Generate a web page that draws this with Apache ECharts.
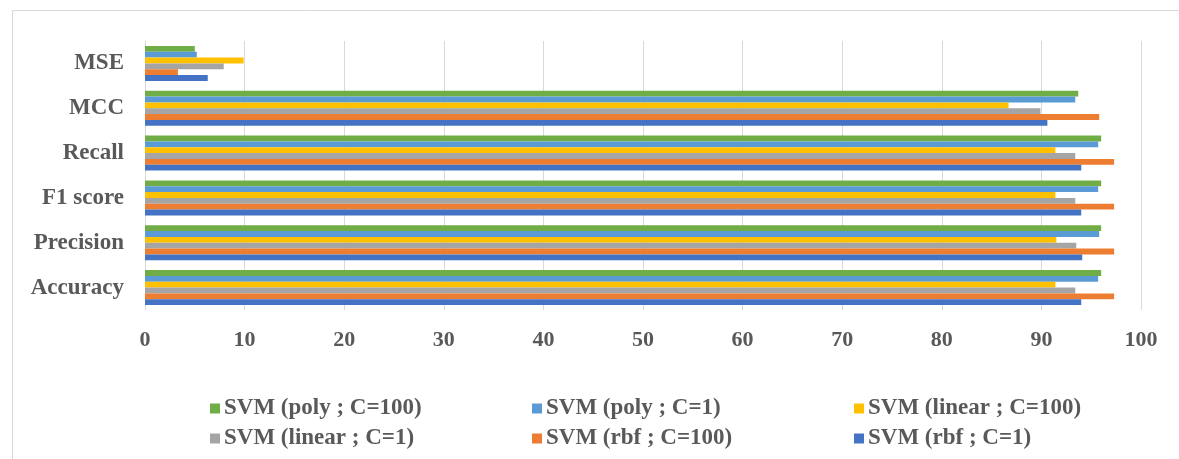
<!DOCTYPE html>
<html>
<head>
<meta charset="utf-8">
<script src="https://cdn.jsdelivr.net/npm/echarts@6/dist/echarts.min.js"></script>
<style>
  html, body { margin: 0; padding: 0; background: #fff; }
  #chart { width: 1179px; height: 459px; }
</style>
</head>
<body>
<div id="chart"></div>
<script>
'use strict';

// metrics, bottom to top
const metrics = ['Accuracy', 'Precision', 'F1 score', 'Recall', 'MCC', 'MSE'];
const xTicks = [0, 10, 20, 30, 40, 50, 60, 70, 80, 90, 100];

const poly100 = [96.0, 96.0, 96.0, 96.0, 93.7, 5.0];
const poly1 = [95.7, 95.8, 95.7, 95.7, 93.4, 5.2];
const linear100 = [91.4, 91.5, 91.4, 91.4, 86.7, 9.9];
const linear1 = [93.4, 93.5, 93.4, 93.4, 89.9, 7.9];
const rbf100 = [97.3, 97.3, 97.3, 97.3, 95.8, 3.3];
const rbf1 = [94.0, 94.1, 94.0, 94.0, 90.6, 6.3];

// top of each group first (ECharts stacks horizontal bars top-down)
const seriesNames = [
  'SVM (poly ; C=100)', 'SVM (poly ; C=1)', 'SVM (linear ; C=100)',
  'SVM (linear ; C=1)', 'SVM (rbf ; C=100)', 'SVM (rbf ; C=1)'
];
const seriesData = [poly100, poly1, linear100, linear1, rbf100, rbf1];
const colors = ['#70AD47', '#5B9BD5', '#FFC000', '#A5A5A5', '#ED7D31', '#4472C4'];

(function () {
  const chart = echarts.init(document.getElementById('chart'));
  const font = 'Liberation Serif';
  const textColor = '#595959';

  // legend, 2 rows x 3 columns like the original
  const legends = seriesNames.map(function (name, i) {
    return {
      data: [name],
      left: 205 + (i % 3) * 322,
      top: 392 + Math.floor(i / 3) * 30,
      itemWidth: 10,
      itemHeight: 10,
      itemGap: 4,
      icon: 'rect',
      selectedMode: false,
      textStyle: { fontFamily: font, fontWeight: 'bold', fontSize: 23, color: textColor, padding: [0, 0, 0, -1] }
    };
  });

  const option = {
    animation: false,
    color: colors,
    graphic: [{
      type: 'rect',
      shape: { x: 12.5, y: 10.5, width: 1200, height: 500 },
      style: { fill: 'none', stroke: '#d9d9d9', lineWidth: 1 },
      silent: true
    }],
    legend: legends,
    grid: { left: 145, right: 38, top: 41, bottom: 149 },
    xAxis: {
      type: 'value',
      min: 0,
      max: 100,
      interval: 10,
      axisLine: { show: false },
      axisTick: { show: false },
      splitLine: { lineStyle: { color: '#d9d9d9', width: 1 } },
      axisLabel: {
        margin: 19,
        fontFamily: font, fontWeight: 'bold', fontSize: 22, color: textColor,
        formatter: function (v) { return xTicks.indexOf(v) >= 0 ? String(v) : ''; }
      }
    },
    yAxis: {
      type: 'category',
      data: metrics,
      axisLine: { show: true, lineStyle: { color: '#d9d9d9' } },
      axisTick: { show: false },
      axisLabel: {
        margin: 21,
        fontFamily: font, fontWeight: 'bold', fontSize: 23, color: textColor
      }
    },
    series: seriesNames.map(function (name, i) {
      return {
        name: name,
        type: 'bar',
        data: seriesData[i],
        barGap: '0%',
        barCategoryGap: '22%',
        itemStyle: { color: colors[i] }
      };
    })
  };

  chart.setOption(option);
  window.addEventListener('resize', chart.resize);
})();
</script>
</body>
</html>
